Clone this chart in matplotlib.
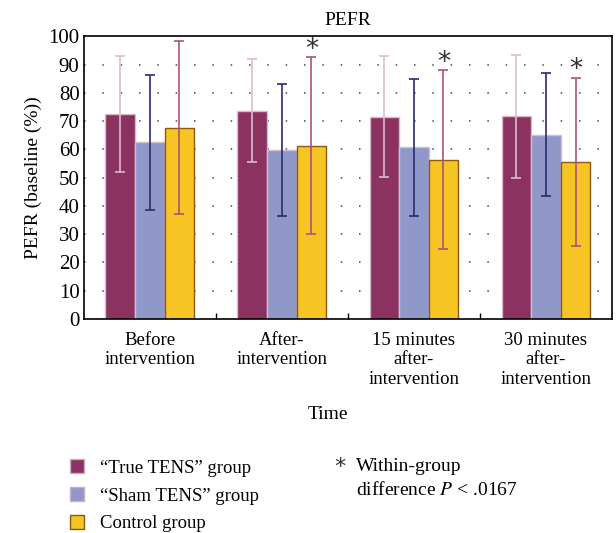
import matplotlib.pyplot as plt
import numpy as np
from matplotlib.patches import Patch

plt.rcParams["font.family"] = ["Liberation Serif", "DejaVu Serif"]
plt.rcParams["mathtext.fontset"] = "stix"

groups = ["Before\nintervention", "After-\nintervention",
          "15 minutes\nafter-\nintervention", "30 minutes\nafter-\nintervention"]
series = ["\u201cTrue TENS\u201d group", "\u201cSham TENS\u201d group", "Control group"]
true_mean = [72.5, 73.7, 71.6, 71.7]
true_err = [20.5, 18.2, 21.5, 21.7]
sham_mean = [62.5, 59.7, 60.7, 65.2]
sham_err = [23.8, 23.3, 24.2, 21.7]
ctrl_mean = [67.7, 61.2, 56.3, 55.6]
ctrl_err = [30.7, 31.3, 31.7, 29.8]
star_groups = [1, 2, 3]

BAR = ["#8b3260", "#9097c9", "#f6c423"]
EDGE = ["#d6bccb", "#d6bccb", "#8a5a12"]
ERR = ["#dcbcd0", "#2a2a70", "#b04f7c"]

fig = plt.figure(figsize=(6.16, 5.33), dpi=100)
ax = fig.add_axes([0.136, 0.4015, 0.8575, 0.5305])

x = np.arange(len(groups))
w = 0.224
means = [true_mean, sham_mean, ctrl_mean]
errs = [true_err, sham_err, ctrl_err]
for i, (m, e) in enumerate(zip(means, errs)):
    xs = x + (i - 1) * w
    ax.bar(xs, m, width=w, color=BAR[i], edgecolor=EDGE[i], linewidth=1.0, zorder=2)
    ax.errorbar(xs, m, yerr=e, fmt="none", ecolor=ERR[i], elinewidth=1.2,
                capsize=3.5, capthick=1.2, zorder=3)

for g in star_groups:
    top = ctrl_mean[g] + ctrl_err[g]
    ax.text(x[g] + w, top + 2.6, "*", ha="center", va="center", fontsize=19,
            family="DejaVu Sans", color="#333333")

ax.set_xlim(-0.5, 3.5)
ax.set_ylim(0, 100)
ax.set_yticks(range(0, 101, 10))
ax.tick_params(axis="y", length=0, labelsize=15, pad=3)
ax.set_xticks(x)
ax.set_xticklabels(groups, fontsize=13.5, linespacing=1.2)
ax.tick_params(axis="x", length=0, pad=9)
ax.set_xticks([0.5, 1.5, 2.5], minor=True)
ax.tick_params(axis="x", which="minor", direction="in", length=4, width=1)
for yv in range(10, 100, 10):
    ax.axhline(yv, color="#444444", linestyle=(0, (1, 11)), linewidth=1.1, zorder=1)
for s in ax.spines.values():
    s.set_linewidth(1.2)

ax.set_ylabel("PEFR (baseline (%))", fontsize=14, labelpad=5)
ax.set_title("PEFR", fontsize=14, pad=8)
fig.text(0.533, 0.222, "Time", ha="center", va="center", fontsize=14)

handles = [Patch(facecolor=BAR[i], edgecolor=EDGE[i] if i == 2 else "#c8b0c0",
                 linewidth=1.0) for i in range(3)]
fig.legend(handles, series, loc="upper left", bbox_to_anchor=(0.114, 0.138),
           frameon=False, fontsize=13.5, handlelength=0.75, handleheight=0.75,
           handletextpad=0.85, labelspacing=0.55, borderaxespad=0,
           borderpad=0)

fig.text(0.552, 0.124, "*", ha="center", va="center", fontsize=16,
         family="DejaVu Sans", color="#333333")
fig.text(0.578, 0.125, "Within-group", ha="left", va="center", fontsize=14)
fig.text(0.578, 0.080, "difference $P$ < .0167", ha="left", va="center",
         fontsize=14)

plt.savefig("out.png", dpi=100)
